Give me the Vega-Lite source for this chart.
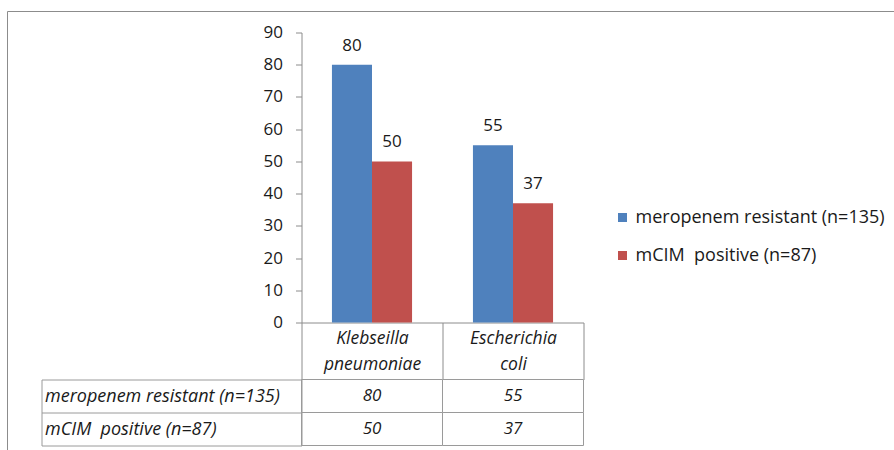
{
  "$schema": "https://vega.github.io/schema/vega-lite/v6.json",
  "padding": {"left": 7.5, "top": 11.5, "right": 0, "bottom": 0},
  "background": "white",
  "config": {
    "font": "Open Sans",
    "view": {"stroke": null},
    "axis": {"labelFont": "Open Sans", "labelColor": "#1a1a1a", "domainColor": "#8c8c8c", "tickColor": "#8c8c8c", "grid": false, "title": null},
    "legend": {"labelFont": "Open Sans"}
  },
  "datasets": {
    "counts": [
      {"organism": "Klebseilla pneumoniae", "series": "meropenem resistant (n=135)", "value": 80},
      {"organism": "Klebseilla pneumoniae", "series": "mCIM\u00a0 positive (n=87)", "value": 50},
      {"organism": "Escherichia coli", "series": "meropenem resistant (n=135)", "value": 55},
      {"organism": "Escherichia coli", "series": "mCIM\u00a0 positive (n=87)", "value": 37}
    ]
  },
  "vconcat": [
    {
      "width": 282,
      "height": 290,
      "data": {"name": "counts"},
      "encoding": {
        "x": {
          "field": "organism", "type": "nominal", "sort": null,
          "scale": {"paddingInner": 0, "paddingOuter": 0},
          "axis": {
            "orient": "bottom", "labelAngle": 0, "tickBand": "extent", "tickSize": 57,
            "labelPadding": -50, "labelFontSize": 17.5, "labelFontStyle": "italic",
            "labelLineHeight": 26, "labelExpr": "split(datum.label, ' ')"
          }
        },
        "xOffset": {"field": "series", "type": "nominal", "sort": null, "scale": {"paddingInner": 0, "paddingOuter": 0.76}},
        "y": {
          "field": "value", "type": "quantitative",
          "scale": {"domain": [0, 90]},
          "axis": {"values": [0, 10, 20, 30, 40, 50, 60, 70, 80, 90], "tickSize": 6, "labelPadding": 13, "labelFontSize": 17}
        }
      },
      "layer": [
        {
          "mark": {"type": "bar"},
          "encoding": {
            "color": {
              "field": "series", "type": "nominal", "sort": null,
              "scale": {"range": ["#4F81BD", "#C0504D"]},
              "legend": {
                "title": null, "orient": "none", "legendX": 312, "legendY": 176,
                "symbolType": "square", "symbolSize": 81, "labelFontSize": 18, "labelLimit": 0,
                "labelColor": "#1a1a1a", "rowPadding": 20, "labelOffset": 4, "padding": 0
              }
            }
          }
        },
        {
          "mark": {"type": "text", "baseline": "bottom", "dy": -10, "fontSize": 17, "color": "#1a1a1a"},
          "encoding": {
            "text": {"field": "value", "type": "quantitative"},
            "stroke": {
              "field": "value", "type": "quantitative",
              "scale": {"range": ["rgba(0,0,0,0)", "rgba(0,0,0,0)"]},
              "legend": {
                "type": "gradient", "direction": "vertical", "title": null,
                "orient": "none", "legendX": -294, "legendY": -21, "padding": 0,
                "gradientLength": 445, "gradientThickness": 890,
                "gradientStrokeColor": "#8c8c8c", "gradientStrokeWidth": 1,
                "labelExpr": "''", "labelOpacity": 0, "tickCount": 1
              }
            }
          }
        }
      ]
    },
    {
      "width": 282,
      "height": 66,
      "data": {"name": "counts"},
      "encoding": {
        "x": {"field": "organism", "type": "nominal", "sort": null, "scale": {"paddingInner": 0, "paddingOuter": 0}, "axis": null},
        "y": {"field": "series", "type": "nominal", "sort": null, "scale": {"paddingInner": 0, "paddingOuter": 0}}
      },
      "layer": [
        {
          "mark": {"type": "rect", "fill": "white", "stroke": "#9a9a9a", "strokeWidth": 1},
          "encoding": {
            "y": {
              "field": "series", "type": "nominal", "sort": null,
              "axis": {"orient": "left", "tickBand": "extent", "tickSize": 260, "labelAlign": "left", "labelPadding": -3, "labelFontSize": 18, "labelFontStyle": "italic", "labelLimit": 0, "domainColor": "#9a9a9a", "tickColor": "#9a9a9a"}
            }
          }
        },
        {
          "mark": {"type": "text", "fontSize": 17, "fontStyle": "italic", "color": "#1a1a1a"},
          "encoding": {
            "y": {
              "field": "series", "type": "nominal", "sort": null,
              "axis": {"orient": "left", "offset": 260, "ticks": false, "labels": false, "domainColor": "#9a9a9a"}
            },
            "text": {"field": "value", "type": "quantitative"}
          }
        }
      ],
      "resolve": {"axis": {"y": "independent"}}
    }
  ],
  "spacing": 57,
  "bounds": "flush",
  "resolve": {"scale": {"stroke": "independent"}}
}
